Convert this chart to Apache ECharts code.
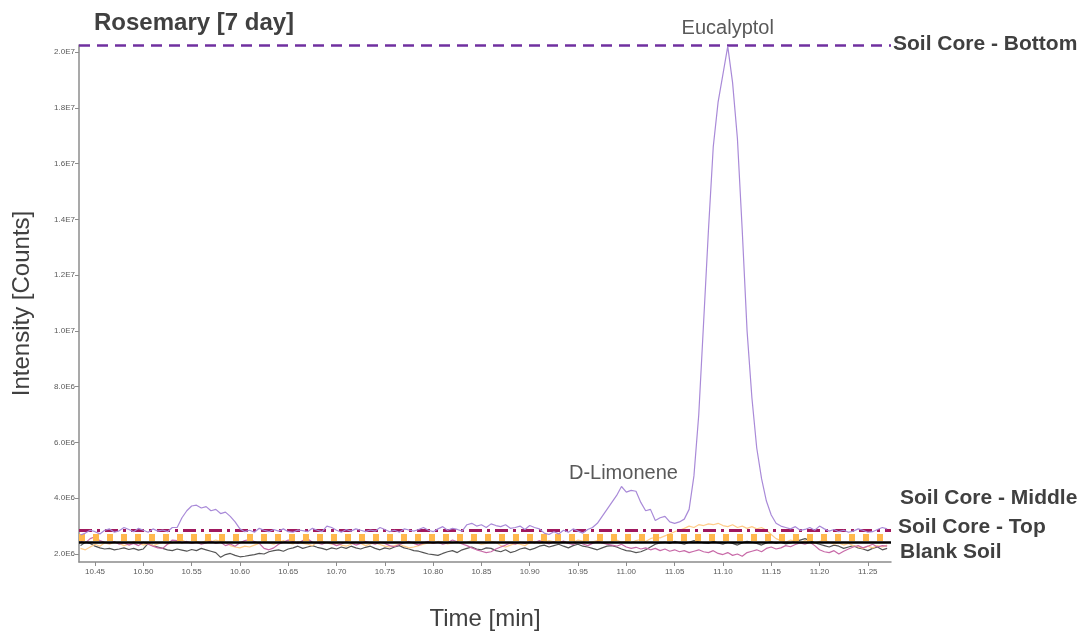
<!DOCTYPE html>
<html>
<head>
<meta charset="utf-8">
<script src="https://cdn.jsdelivr.net/npm/echarts@6/dist/echarts.min.js"></script>
<style>
html,body{margin:0;padding:0;background:#fff;}
#chart{width:1083px;height:634px;}
</style>
</head>
<body>
<div id="chart"></div>
<script>
// Sample grid (minutes)
const timeStart = 10.435;
const timeStep = 0.005;

// Intensities in units of 1E6 counts
const soilCoreBottom = [
  2.68, 2.75, 2.85, 2.80, 2.72, 2.85, 2.90, 2.78, 2.83, 2.95,
  2.88, 2.80, 2.92, 2.85, 2.78, 2.90, 2.82, 2.86, 2.80, 2.95,
  2.95, 3.30, 3.55, 3.72, 3.75, 3.65, 3.70, 3.55, 3.60, 3.45,
  3.50, 3.35, 3.15, 2.90, 2.80, 2.85, 2.78, 2.92, 2.85, 2.80,
  2.88, 2.82, 2.90, 2.80, 2.78, 2.86, 2.84, 2.80, 2.92, 2.85,
  2.80, 3.00, 2.95, 2.85, 2.78, 2.88, 2.82, 2.90, 2.85, 2.80,
  2.86, 2.82, 2.95, 2.88, 2.80, 2.85, 2.78, 2.90, 2.86, 2.82,
  2.88, 2.95, 2.85, 2.80, 2.90, 2.98, 2.85, 2.92, 2.88, 2.82,
  3.05, 3.10, 3.00, 3.05, 2.95, 3.08, 3.02, 2.98, 3.05, 2.92,
  2.95, 3.00, 2.88, 3.02, 2.95, 2.90, 2.75, 2.70, 2.80, 2.72,
  2.85, 2.78, 2.90, 2.82, 2.75, 2.88, 2.95, 3.10, 3.35, 3.60,
  3.85, 4.10, 4.42, 4.22, 4.28, 4.25, 3.85, 3.55, 3.60, 3.20,
  3.30, 3.35, 3.15, 3.10, 3.15, 3.25, 3.60, 4.80, 7.00, 10.30,
  13.60, 16.60, 18.20, 19.20, 20.20, 18.90, 16.90, 13.60, 10.00, 7.60,
  5.80, 4.70, 3.90, 3.40, 3.10, 3.00, 2.95, 2.90, 2.98, 2.85,
  2.88, 2.95, 2.85, 3.00, 2.90, 2.82, 2.88, 2.80, 2.85, 2.78,
  2.82, 2.90, 2.85, 2.78, 2.80, 2.88, 2.95, 2.90
];
const soilCoreMiddle = [
  2.45, 2.40, 2.55, 2.62, 2.48, 2.42, 2.38, 2.45, 2.35, 2.40,
  2.32, 2.38, 2.30, 2.42, 2.35, 2.28, 2.22, 2.20, 2.35, 2.50,
  2.48, 2.40, 2.45, 2.38, 2.42, 2.35, 2.40, 2.46, 2.38, 2.42,
  2.30, 2.36, 2.28, 2.40, 2.48, 2.52, 2.45, 2.38, 2.20, 2.15,
  2.22, 2.35, 2.42, 2.50, 2.45, 2.38, 2.48, 2.55, 2.42, 2.40,
  2.35, 2.42, 2.38, 2.30, 2.36, 2.44, 2.40, 2.32, 2.38, 2.45,
  2.40, 2.35, 2.42, 2.38, 2.30, 2.26, 2.34, 2.40, 2.45, 2.38,
  2.32, 2.40, 2.45, 2.38, 2.42, 2.35, 2.40, 2.50, 2.44, 2.36,
  2.30, 2.22, 2.15, 2.10, 2.05, 2.08, 2.18, 2.25, 2.32, 2.40,
  2.35, 2.42, 2.38, 2.45, 2.40, 2.48, 2.42, 2.36, 2.44, 2.40,
  2.46, 2.38, 2.34, 2.42, 2.36, 2.30, 2.38, 2.45, 2.40, 2.35,
  2.32, 2.28, 2.35, 2.25, 2.20, 2.24, 2.18, 2.22, 2.15, 2.20,
  2.12, 2.18, 2.10, 2.15, 2.08, 2.12, 2.05, 2.10, 2.15, 2.08,
  2.05, 2.12, 2.02, 1.98, 2.05, 1.95, 2.00, 1.92, 2.05, 2.10,
  2.15, 2.08, 2.20, 2.25, 2.18, 2.22, 2.30, 2.26, 2.34, 2.40,
  2.35, 2.42, 2.30, 2.15, 2.08, 2.05, 2.12, 2.00, 2.10, 2.18,
  2.25, 2.30, 2.22, 2.28, 2.35, 2.25, 2.30, 2.28
];
const soilCoreTop = [
  2.20, 2.15, 2.25, 2.35, 2.28, 2.40, 2.35, 2.42, 2.38, 2.30,
  2.35, 2.45, 2.40, 2.32, 2.38, 2.30, 2.36, 2.42, 2.35, 2.40,
  2.46, 2.50, 2.42, 2.38, 2.45, 2.40, 2.48, 2.44, 2.50, 2.45,
  2.42, 2.30, 2.25, 2.22, 2.28, 2.25, 2.32, 2.38, 2.45, 2.40,
  2.35, 2.42, 2.48, 2.40, 2.36, 2.44, 2.38, 2.35, 2.30, 2.42,
  2.46, 2.40, 2.35, 2.38, 2.32, 2.28, 2.35, 2.42, 2.38, 2.30,
  2.36, 2.40, 2.34, 2.28, 2.25, 2.30, 2.35, 2.28, 2.22, 2.25,
  2.30, 2.35, 2.40, 2.38, 2.45, 2.42, 2.36, 2.40, 2.45, 2.38,
  2.42, 2.48, 2.40, 2.35, 2.38, 2.45, 2.42, 2.30, 2.25, 2.32,
  2.38, 2.35, 2.30, 2.40, 2.45, 2.38, 2.42, 2.48, 2.44, 2.40,
  2.45, 2.38, 2.42, 2.50, 2.46, 2.40, 2.44, 2.48, 2.42, 2.38,
  2.45, 2.50, 2.42, 2.46, 2.40, 2.48, 2.52, 2.45, 2.55, 2.60,
  2.58, 2.65, 2.72, 2.80, 2.85, 2.92, 3.00, 2.95, 3.05, 3.02,
  3.08, 3.05, 3.10, 3.02, 2.98, 3.05, 2.95, 3.00, 2.92, 2.98,
  2.90, 2.95, 2.85, 2.70, 2.55, 2.48, 2.42, 2.50, 2.45, 2.40,
  2.48, 2.42, 2.38, 2.45, 2.50, 2.42, 2.35, 2.40, 2.32, 2.38,
  2.30, 2.25, 2.20, 2.28, 2.22, 2.30, 2.25, 2.32
];
const blankSoil = [
  2.30, 2.42, 2.38, 2.28, 2.22, 2.18, 2.20, 2.15, 2.18, 2.22,
  2.16, 2.20, 2.14, 2.18, 2.38, 2.30, 2.25, 2.20, 2.15, 2.12,
  2.18, 2.14, 2.10, 2.16, 2.12, 2.20, 2.15, 2.10, 2.05, 1.88,
  1.98, 2.02, 1.95, 1.90, 1.92, 1.95, 1.98, 2.02, 2.00, 2.08,
  2.12, 2.15, 2.10, 2.18, 2.22, 2.28, 2.20, 2.25, 2.30, 2.24,
  2.20, 2.15, 2.22, 2.18, 2.25, 2.20, 2.28, 2.22, 2.18, 2.24,
  2.28, 2.20, 2.15, 2.22, 2.18, 2.25, 2.30, 2.22, 2.18, 2.12,
  2.10, 2.05, 2.00, 1.98, 1.95, 2.02, 2.08, 2.12, 2.05, 2.15,
  2.20, 2.25, 2.18, 2.15, 2.22, 2.20, 2.12, 2.08, 2.15, 2.05,
  2.10, 2.18, 2.22, 2.15, 2.20, 2.28, 2.32, 2.25, 2.30, 2.35,
  2.28, 2.22, 2.30, 2.35, 2.28, 2.25, 2.20, 2.15, 2.22, 2.28,
  2.30, 2.25, 2.18, 2.12, 2.10, 2.05, 2.08, 2.15, 2.25, 2.35,
  2.40, 2.42, 2.38, 2.45, 2.40, 2.35, 2.42, 2.48, 2.44, 2.40,
  2.38, 2.45, 2.40, 2.35, 2.42, 2.38, 2.32, 2.40, 2.45, 2.42,
  2.38, 2.32, 2.40, 2.44, 2.38, 2.42, 2.36, 2.40, 2.45, 2.50,
  2.55, 2.48, 2.40, 2.35, 2.30, 2.25, 2.32, 2.28, 2.20, 2.25,
  2.30, 2.22, 2.18, 2.12, 2.20, 2.25, 2.15, 2.20
];

// Legend reference lines (levels in 1E6 counts)
const legendNames = ['Soil Core - Bottom', 'Soil Core - Middle', 'Soil Core - Top', 'Blank Soil'];
const legendLevels = [20.25, 2.86, 2.61, 2.43];

// Peak annotations [time, intensity]
const peakNames = ['Eucalyptol', 'D-Limonene'];
const peakCoords = [[11.105, 20.2], [10.997, 4.42]];

// Axis ticks
const xTicks = [10.45, 10.50, 10.55, 10.60, 10.65, 10.70, 10.75, 10.80, 10.85, 10.90, 10.95, 11.00, 11.05, 11.10, 11.15, 11.20, 11.25];
const yTicks = [2, 4, 6, 8, 10, 12, 14, 16, 18, 20];

function toPairs(vals) {
  return vals.map((v, i) => [+(timeStart + i * timeStep).toFixed(4), v]);
}
function yFmt(v) {
  if (v >= 10) return (v / 10).toFixed(1) + 'E7';
  return v.toFixed(1) + 'E6';
}

const chart = echarts.init(document.getElementById('chart'), null, { renderer: 'canvas' });
const FONT = '"Liberation Sans", Arial, sans-serif';
const traceColors = ['#A98AD8', '#C86AA8', '#FFCC88', '#555555'];
const lineColors = ['#7030A0', '#A0185E', '#FFB84D', '#000000'];
const lineStyles = [
  { type: [11, 7], width: 2.5 },
  { type: [13, 5, 3, 5], width: 3 },
  { type: [6, 8], width: 7 },
  { type: 'solid', width: 2.5 }
];
const traces = [soilCoreBottom, soilCoreMiddle, soilCoreTop, blankSoil];
const order = [3, 2, 1, 0];
const peakLabelGap = [8, 3];

const series = order.map(k => ({
  type: 'line',
  name: legendNames[k],
  data: toPairs(traces[k]),
  showSymbol: false,
  symbol: 'none',
  lineStyle: { color: traceColors[k], width: 1.2 },
  z: 2 + (3 - k),
  silent: true,
  animation: false
}));

// Reference lines as a separate overlay series
series.push({
  type: 'line',
  data: [],
  symbol: 'none',
  z: 10,
  markLine: {
    silent: true,
    symbol: 'none',
    animation: false,
    label: { show: false },
    data: legendLevels.map((lv, k) => ({
      yAxis: lv,
      lineStyle: { color: lineColors[k], type: lineStyles[k].type, width: lineStyles[k].width, cap: 'butt' }
    })).reverse()
  },
  markPoint: {
    silent: true,
    symbol: 'circle',
    symbolSize: 0,
    animation: false,
    label: {
      show: true,
      position: 'top',
      distance: 8,
      color: '#595959',
      fontSize: 20,
      fontFamily: FONT,
      formatter: p => p.name
    },
    data: peakNames.map((n, i) => ({ name: n, coord: peakCoords[i], label: { distance: peakLabelGap[i] } }))
  }
});

const labelTops = [46, 500, 529, 554];
const labelLefts = [893, 900, 898, 900];

chart.setOption({
  animation: false,
  backgroundColor: '#ffffff',
  title: {
    text: 'Rosemary [7 day]',
    left: 89,
    top: 6,
    textStyle: { fontFamily: FONT, fontSize: 24, fontWeight: 'bold', color: '#404040' }
  },
  grid: { left: 79, right: 192, top: 45, bottom: 72, containLabel: false, outerBoundsMode: 'none' },
  xAxis: {
    type: 'value',
    min: 10.4334,
    max: 11.274,
    name: 'Time [min]',
    nameLocation: 'middle',
    nameGap: 45,
    nameTextStyle: { fontFamily: FONT, fontSize: 24, color: '#404040' },
    axisLine: { show: true, lineStyle: { color: '#8c8c8c', width: 1.5 } },
    axisTick: { show: true, length: 4, customValues: xTicks, lineStyle: { color: '#8c8c8c' } },
    axisLabel: { customValues: xTicks, fontSize: 8, color: '#595959', fontFamily: FONT, margin: 6, formatter: v => v.toFixed(2) },
    splitLine: { show: false }
  },
  yAxis: {
    type: 'value',
    min: 1.713,
    max: 20.25,
    name: 'Intensity [Counts]',
    nameLocation: 'middle',
    nameGap: 45,
    nameRotate: 90,
    nameTextStyle: { fontFamily: FONT, fontSize: 24, color: '#404040' },
    axisLine: { show: true, lineStyle: { color: '#8c8c8c', width: 1.5 } },
    axisTick: { show: true, length: 4, customValues: yTicks, lineStyle: { color: '#8c8c8c' } },
    axisLabel: { customValues: yTicks, fontSize: 8, color: '#595959', fontFamily: FONT, margin: 4, formatter: yFmt },
    splitLine: { show: false }
  },
  graphic: legendNames.map((n, k) => ({
    type: 'text',
    left: labelLefts[k],
    top: labelTops[k] - 12,
    style: { text: n, fontFamily: FONT, fontSize: 21, fontWeight: 'bold', fill: '#404040' }
  })),
  series: series
});
</script>
</body>
</html>
